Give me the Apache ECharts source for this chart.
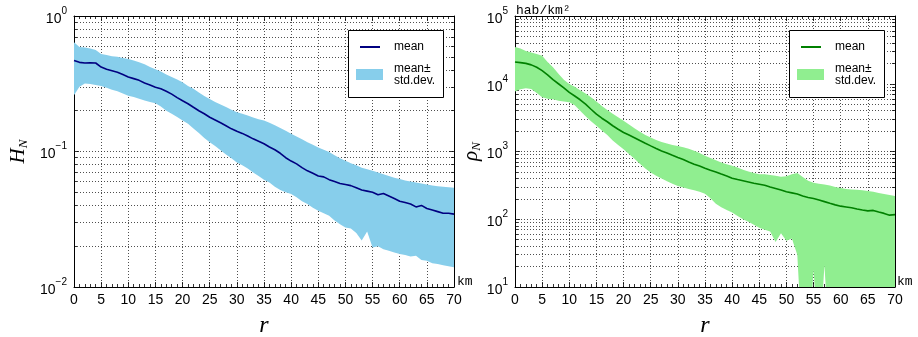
<!DOCTYPE html>
<html><head><meta charset="utf-8">
<script src="https://cdn.jsdelivr.net/npm/echarts@6/dist/echarts.min.js"></script>
<style>html,body{margin:0;padding:0;background:#fff}#c{width:918px;height:337px}</style>
</head><body><div id="c"></div>
<script>
// ---- data ----
const r = [0,1,2,3,4,5,6,7,8,9,10,11,12,13,14,15,16,17,18,19,20,21,22,23,24,25,26,27,28,29,30,31,32,33,34,35,36,37,38,39,40,41,42,43,44,45,46,47,48,49,50,51,52,53,54,55,56,57,58,59,60,61,62,63,64,65,66,67,68,69,70];

const hMean = [0.47,0.455,0.45,0.452,0.45,0.42,0.405,0.395,0.385,0.37,
  0.355,0.345,0.335,0.32,0.31,0.298,0.29,0.278,0.265,0.25,
  0.237,0.225,0.212,0.2,0.19,0.179,0.171,0.163,0.155,0.147,
  0.141,0.136,0.13,0.124,0.119,0.114,0.108,0.103,0.097,0.09,
  0.085,0.081,0.076,0.072,0.069,0.066,0.065,0.062,0.06,0.058,
  0.057,0.056,0.054,0.052,0.051,0.05,0.048,0.049,0.047,0.045,
  0.043,0.042,0.041,0.039,0.04,0.038,0.037,0.036,0.035,0.035,
  0.0345];
const hUpper = [0.64,0.59,0.585,0.575,0.56,0.525,0.515,0.505,0.5,0.49,
  0.482,0.47,0.455,0.44,0.42,0.405,0.39,0.37,0.355,0.34,
  0.324,0.305,0.29,0.272,0.257,0.244,0.232,0.222,0.213,0.203,
  0.195,0.19,0.184,0.178,0.173,0.169,0.163,0.156,0.149,0.142,
  0.135,0.129,0.123,0.117,0.112,0.107,0.103,0.099,0.094,0.089,
  0.0855,0.082,0.079,0.076,0.074,0.072,0.07,0.068,0.066,0.064,
  0.0627,0.061,0.06,0.059,0.058,0.057,0.056,0.0555,0.055,0.0545,
  0.054];
const hLower = [0.26,0.3,0.318,0.315,0.31,0.305,0.295,0.285,0.278,0.268,
  0.258,0.252,0.245,0.238,0.232,0.227,0.215,0.2,0.19,0.18,
  0.169,0.16,0.148,0.137,0.126,0.117,0.11,0.102,0.095,0.089,
  0.083,0.079,0.075,0.07,0.066,0.062,0.059,0.055,0.052,0.05,
  0.0486,0.046,0.043,0.041,0.0385,0.0366,0.035,0.0336,0.031,0.029,
  0.0275,0.027,0.025,0.022,0.0257,0.0196,0.02,0.019,0.0185,0.018,
  0.0175,0.0172,0.0168,0.017,0.0158,0.0156,0.015,0.0148,0.0145,0.0142,
  0.014];

const rhoMean = [21000,20500,20000,19000,17500,15600,13500,11500,10000,8700,
  7450,6600,5800,5000,4200,3560,3100,2750,2400,2130,
  1910,1750,1600,1450,1320,1210,1110,1020,950,880,
  817,760,700,650,610,568,530,500,465,435,
  404,385,370,355,340,329,318,300,285,270,
  254,245,236,220,210,202,192,182,172,163,
  156,152,148,142,137,133,135,128,122,115,
  117];
const rhoUpper = [35000,33000,30500,29000,27500,25900,21000,17500,14000,11500,
  9900,9000,8000,7200,6300,5490,4700,4100,3600,3200,
  2840,2500,2200,1950,1750,1610,1480,1380,1310,1250,
  1210,1160,1100,1030,950,863,800,740,690,650,
  614,580,540,505,480,462,460,450,440,425,
  430,460,480,420,370,345,335,325,315,300,
  290,280,275,272,268,262,255,245,235,228,
  221];
// values below the axis floor (mean - std.dev. under 10) are given as 1
const rhoLower = [7700,8300,8600,8400,7300,6300,6000,5900,5600,5450,
  5350,4800,4000,3300,2800,2390,2050,1750,1450,1250,
  1080,920,780,660,560,490,440,400,365,335,
  310,295,280,268,255,238,205,170,150,137,
  126,112,100,92,83,75,70,66,46,62,
  48,52,30,1,1,18,1,21,1,1,
  1,1,1,1,1,1,1,1,1,1,
  1];

const legendMean = 'mean';
const legendBand = 'mean±\nstd.dev.';

// ---- chart ----
const chart = echarts.init(document.getElementById('c'), null, {renderer:'canvas'});
const AX = '#000';
const SANS = 'Liberation Sans, Arial, Helvetica, sans-serif';
const SERIF = 'Liberation Serif, Times New Roman, serif';
const MONO = 'Liberation Mono, Courier New, monospace';
const gridDot = {color:'#222', width:0.8, type:[1,2]};

function supFmt(v){
  const e = Math.round(Math.log10(v));
  return '{b|10}{s|' + String(e).replace('-', '\u2212') + '}';
}
const supRich = {
  b:{fontSize:14, fontFamily:SANS, color:'#000', lineHeight:20, verticalAlign:'bottom'},
  s:{fontSize:10, fontFamily:SANS, color:'#000', lineHeight:10, verticalAlign:'top'}
};

function xMain(gi){
  return {type:'value', gridIndex:gi, min:0, max:70, interval:5, position:'bottom',
    axisLine:{onZero:false, lineStyle:{color:AX, width:1}},
    axisTick:{inside:true, length:5, lineStyle:{color:AX, width:0.8}},
    minorTick:{show:true, splitNumber:5, length:3, lineStyle:{color:AX, width:0.8}},
    axisLabel:{color:'#000', fontSize:14, fontFamily:SANS, margin:6},
    splitLine:{show:true, lineStyle:gridDot},
    name:'r', nameLocation:'middle', nameGap:27,
    nameTextStyle:{fontFamily:SERIF, fontStyle:'italic', fontSize:24, color:'#000'}};
}
function xTop(gi){
  return {type:'value', gridIndex:gi, min:0, max:70, interval:5, position:'top',
    axisLine:{onZero:false, lineStyle:{color:AX, width:1}},
    axisTick:{inside:true, length:5, lineStyle:{color:AX, width:0.8}},
    minorTick:{show:true, splitNumber:5, length:3, lineStyle:{color:AX, width:0.8}},
    axisLabel:{show:false}, splitLine:{show:false}};
}
function yMain(gi, min, max, sym, gap){
  return {type:'log', logBase:10, gridIndex:gi, min:min, max:max, position:'left',
    axisLine:{show:true, onZero:false, lineStyle:{color:AX, width:1}},
    axisTick:{inside:true, length:5, lineStyle:{color:AX, width:0.8}},
    minorTick:{show:true, splitNumber:9, length:3, lineStyle:{color:AX, width:0.8}},
    splitLine:{show:true, lineStyle:gridDot},
    minorSplitLine:{show:true, lineStyle:gridDot},
    axisLabel:{formatter:supFmt, rich:supRich, margin:7},
    name:'{h|' + sym + '}{n|N}', nameLocation:'middle', nameRotate:90, nameGap:gap,
    nameTextStyle:{rich:{
      h:{fontFamily:SERIF, fontStyle:'italic', fontSize:21, color:'#000', lineHeight:22, verticalAlign:'top'},
      n:{fontFamily:SERIF, fontStyle:'italic', fontSize:13, color:'#000', lineHeight:13, verticalAlign:'bottom'}}}};
}
function yRight(gi, min, max){
  return {type:'log', logBase:10, gridIndex:gi, min:min, max:max, position:'right',
    axisLine:{show:true, onZero:false, lineStyle:{color:AX, width:1}},
    axisTick:{inside:true, length:5, lineStyle:{color:AX, width:0.8}},
    minorTick:{show:true, splitNumber:9, length:3, lineStyle:{color:AX, width:0.8}},
    splitLine:{show:false}, minorSplitLine:{show:false},
    axisLabel:{show:false}};
}

function bandSeries(xi, yi, lower, upper, mean, fill, lineColor, key){
  return [
    {type:'custom', name:'band'+key, xAxisIndex:xi, yAxisIndex:yi, z:1, animation:false,
      itemStyle:{color:fill}, color:fill,
      encode:{x:0, y:[1,2]},
      data:r.map((x,i)=>[x, lower[i], upper[i]]),
      renderItem:function(params, api){
        if (params.dataIndex !== 0) return null;
        const pts = [];
        for (let i = 0; i < r.length; i++) pts.push(api.coord([r[i], upper[i]]));
        for (let i = r.length - 1; i >= 0; i--) pts.push(api.coord([r[i], lower[i]]));
        const cs = params.coordSys;
        return {type:'polygon', shape:{points:pts}, style:{fill:fill, stroke:null},
          clipPath:{type:'rect', shape:{x:cs.x, y:cs.y, width:cs.width, height:cs.height}}};
      }},
    {type:'line', name:'mean'+key, xAxisIndex:xi, yAxisIndex:yi, symbol:'none', color:lineColor,
      lineStyle:{color:lineColor, width:1.6}, itemStyle:{color:lineColor},
      data:r.map((x,i)=>[x, mean[i]]), z:2, animation:false}
  ];
}

function legends(dx, key, lineColor, fill){
  return [
    {left:360+dx, top:41, padding:0, itemWidth:20, itemHeight:2, selectedMode:false, z:6,
      data:[{name:'mean'+key, icon:'path://M0,0H20V2H0Z', itemStyle:{color:lineColor}}],
      formatter:()=>legendMean,
      textStyle:{fontFamily:SANS, fontSize:12, color:'#000', padding:[0,0,0,9]}},
    {left:356+dx, top:62, padding:0, itemWidth:27, itemHeight:11, selectedMode:false, z:6,
      data:[{name:'band'+key, icon:'rect', itemStyle:{color:fill}}],
      formatter:()=>legendBand,
      textStyle:{fontFamily:SANS, fontSize:12, color:'#000', lineHeight:12.5, padding:[0,0,0,6]}}
  ];
}

const option = {
  backgroundColor:'#fff',
  animation:false,
  grid:[
    {left:74, top:16, width:380, height:271, outerBoundsMode:'none', containLabel:false},
    {left:515, top:16, width:380, height:271, outerBoundsMode:'none', containLabel:false}
  ],
  xAxis:[xMain(0), xTop(0), xMain(1), xTop(1)],
  yAxis:[yMain(0, 0.01, 1, 'H', 44), yRight(0, 0.01, 1), yMain(1, 10, 100000, '\u03C1', 32), yRight(1, 10, 100000)],
  legend:[].concat(legends(0,'L','#000080','#87CEEB'), legends(441,'R','#008000','#90EE90')),
  series:[].concat(
    bandSeries(0, 0, hLower, hUpper, hMean, '#87CEEB', '#000080', 'L'),
    bandSeries(2, 2, rhoLower, rhoUpper, rhoMean, '#90EE90', '#008000', 'R')
  ),
  graphic:[
    {type:'rect', z:5, shape:{x:348.5, y:30.5, width:95, height:67}, style:{fill:'#fff', stroke:'#000', lineWidth:1}},
    {type:'rect', z:5, shape:{x:789.5, y:30.5, width:95, height:67}, style:{fill:'#fff', stroke:'#000', lineWidth:1}},
    {type:'text', z:5, x:457, y:288, style:{text:'km', font:'13px ' + MONO, fill:'#000', verticalAlign:'bottom'}},
    {type:'text', z:5, x:897, y:288, style:{text:'km', font:'13px ' + MONO, fill:'#000', verticalAlign:'bottom'}},
    {type:'text', z:5, x:516, y:11, style:{text:'hab/km\u00B2', font:'13px ' + MONO, fill:'#000', verticalAlign:'middle'}}
  ]
};
chart.setOption(option);
</script>
</body></html>
